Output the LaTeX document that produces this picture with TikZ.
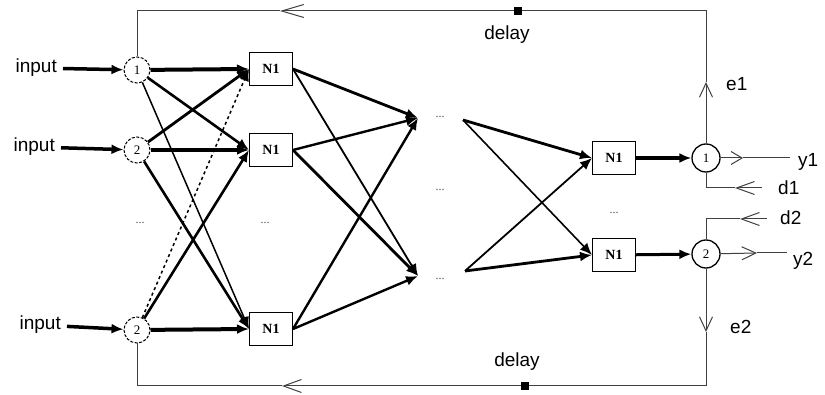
\documentclass[tikz,border=0pt]{standalone}
\usepackage{fontspec}
\setmainfont{Liberation Sans}
\newfontfamily\numfont{Liberation Serif}
\usetikzlibrary{arrows.meta}

\tikzset{
  unit/.style={draw,line width=1pt,dash pattern=on 3pt off 1.5pt,circle,minimum size=26pt,inner sep=0pt,font=\numfont\fontsize{13}{13}\selectfont},
  sumnode/.style={draw,line width=1.3pt,circle,minimum size=28pt,inner sep=0pt,font=\numfont\fontsize{13}{13}\selectfont},
  neuron/.style={draw,line width=1pt,minimum width=43pt,minimum height=33pt,inner sep=0pt,font=\numfont\bfseries\fontsize{14}{14}\selectfont},
  txt/.style={font=\fontsize{19}{19}\selectfont,inner sep=0pt},
  dots/.style={font=\numfont\fontsize{12}{12}\selectfont,text=black!70,inner sep=0pt},
  wire/.style={-{Latex[length=12pt,width=10pt]}},
  fb/.style={black!75,line width=1pt},
  barb/.style={-{Straight Barb[length=#1,width=13pt]}},
  barb/.default=14pt,
  delaybox/.style={fill,minimum size=8pt,inner sep=0pt}
}

\begin{document}
\begin{tikzpicture}[x=1pt,y=-1pt]
\path[use as bounding box] (0,0) rectangle (825,395);

% input layer
\node[unit] (in1) at (137,70) {1};
\node[unit] (in2) at (137,150) {2};
\node[unit] (in3) at (137,330) {2};
\node[txt,anchor=east] (x1) at (57,68) {input};
\node[txt,anchor=east] (x2) at (55,147) {input};
\node[txt,anchor=east] (x3) at (61,325) {input};
\draw[wire,line width=3.5pt,shorten <=6pt] (x1) -- (in1);
\draw[wire,line width=3.5pt,shorten <=6pt] (x2) -- (in2);
\draw[wire,line width=3.5pt,shorten <=6pt] (x3) -- (in3);
\node[dots] (v1) at (140,223) {...};

% first hidden layer
\node[neuron] (h1) at (271,69) {N1};
\node[neuron] (h2) at (271,150) {N1};
\node[neuron] (h3) at (271,329) {N1};
\node[dots] (v2) at (265,223) {...};

\draw[wire,line width=4pt] (in1) -- (h1.west);
\draw[wire,line width=2.6pt] (in1) -- (h2.west);
\draw[wire,line width=1.5pt] (in1) -- (h3.west);
\draw[wire,line width=2.8pt] (in2) -- (h1.west);
\draw[wire,line width=4pt] (in2) -- (h2.west);
\draw[wire,line width=2.6pt] (in2) -- (h3.west);
\draw[wire,line width=1.5pt,dashed] (in3) -- (h1.west);
\draw[wire,line width=2.6pt] (in3) -- (h2.west);
\draw[wire,line width=4pt] (in3) -- (h3.west);

% hidden layers
\coordinate (p1) at (418,118);
\coordinate (p2) at (418,276);
\coordinate (q1) at (463,120);
\coordinate (q2) at (465,271);
\node[dots] (v3) at (440,117) {...};
\node[dots] (v4) at (440,190) {...};
\node[dots] (v5) at (440,279) {...};

\draw[wire,line width=2.8pt] (h1.east) -- (p1);
\draw[wire,line width=1.8pt] (h1.east) -- (p2);
\draw[wire,line width=2.4pt] (h2.east) -- (p1);
\draw[wire,line width=2.8pt] (h2.east) -- (p2);
\draw[wire,line width=2.4pt] (h3.east) -- (p1);
\draw[wire,line width=2.4pt] (h3.east) -- (p2);

% output layer
\node[neuron] (o1) at (614,158) {N1};
\node[neuron] (o2) at (614,255) {N1};
\node[dots] (v6) at (614,213) {...};
\node[sumnode] (c1) at (706,158) {1};
\node[sumnode] (c2) at (706,254) {2};

\draw[wire,line width=2.8pt] (q1) -- (o1.west);
\draw[wire,line width=1.6pt] (q1) -- (o2.west);
\draw[wire,line width=1.8pt] (q2) -- (o1.west);
\draw[wire,line width=2.8pt] (q2) -- (o2.west);
\draw[wire,line width=4.5pt] (o1) -- (c1);
\draw[wire,line width=3pt] (o2) -- (c2);

% feedback through the top delay
\coordinate (tr) at (706,11);
\coordinate (tl) at (137,11);
\coordinate (ta) at (280,11);
\coordinate (ea) at (706,82);
\draw[fb,barb] (c1) -- (ea);
\draw[fb,barb=22pt] (ea) -- (tr) -- (ta);
\draw[fb] (ta) -- (tl) -- (in1);
\node[delaybox] (dl1) at (518,11) {};
\node[txt] (dt1) at (507,35) {delay};
\node[txt,anchor=west] (e1) at (726,84) {e1};

% feedback through the bottom delay
\coordinate (br) at (706,386);
\coordinate (bl) at (137,386);
\coordinate (ba) at (282,386);
\coordinate (eb) at (706,332);
\draw[fb,barb] (c2) -- (eb);
\draw[fb,barb=18pt] (eb) -- (br) -- (ba);
\draw[fb] (ba) -- (bl) -- (in3);
\node[delaybox] (dl2) at (525,386) {};
\node[txt] (dt2) at (517,362) {delay};
\node[txt,anchor=west] (e2) at (730,327) {e2};

% outputs and targets
\coordinate (y1a) at (743,158);
\coordinate (y1e) at (790,158);
\draw[fb,barb=11pt] (c1) -- (y1a);
\draw[fb] (y1a) -- (y1e);
\node[txt,anchor=west] (y1) at (798,162) {y1};

\coordinate (d1e) at (762,188);
\coordinate (d1a) at (735,188);
\draw[fb,barb=18pt] (d1e) -- (d1a);
\draw[fb] (d1a) -| (c1);
\node[txt,anchor=west] (d1) at (778,188) {d1};

\coordinate (d2e) at (767,219);
\coordinate (d2a) at (740,219);
\draw[fb,barb=18pt] (d2e) -- (d2a);
\draw[fb] (d2a) -| (c2);
\node[txt,anchor=west] (d2) at (780,218) {d2};

\coordinate (y2a) at (757,253);
\coordinate (y2e) at (787,253);
\draw[fb,barb=14pt] (c2) -- (y2a);
\draw[fb] (y2a) -- (y2e);
\node[txt,anchor=west] (y2) at (793,261) {y2};
\end{tikzpicture}
\end{document}
